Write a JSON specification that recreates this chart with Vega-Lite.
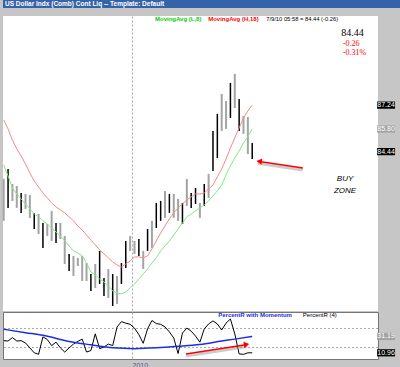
{
"$schema": "https://vega.github.io/schema/vega-lite/v6.json",
"background": "#c6c6c6",
"padding": 0,
"spacing": 7,
"config": {"view": {"stroke": null}, "font": "Liberation Sans", "axis": {"labelFont": "Liberation Sans"}},
"datasets": {
"bars": [
{"i":0,"hi":82.80,"lo":80.27,"c":"g","ma18":86.35,"ma8":83.64,"pr":43},
{"i":1,"hi":83.40,"lo":81.05,"c":"k","ma18":85.81,"ma8":82.98,"pr":42},
{"i":2,"hi":82.49,"lo":81.47,"c":"g","ma18":85.14,"ma8":82.25,"pr":51},
{"i":3,"hi":82.37,"lo":81.05,"c":"g","ma18":84.60,"ma8":81.89,"pr":42},
{"i":4,"hi":81.95,"lo":80.75,"c":"k","ma18":84.18,"ma8":81.59,"pr":43},
{"i":5,"hi":81.89,"lo":80.99,"c":"g","ma18":83.70,"ma8":81.29,"pr":37},
{"i":6,"hi":81.83,"lo":80.45,"c":"g","ma18":83.16,"ma8":80.99,"pr":24},
{"i":7,"hi":80.75,"lo":79.78,"c":"k","ma18":82.67,"ma8":80.69,"pr":11},
{"i":8,"hi":80.69,"lo":79.48,"c":"g","ma18":82.31,"ma8":80.51,"pr":7},
{"i":9,"hi":80.14,"lo":78.64,"c":"k","ma18":81.95,"ma8":80.27,"pr":53},
{"i":10,"hi":80.08,"lo":79.36,"c":"g","ma18":81.65,"ma8":80.08,"pr":46},
{"i":11,"hi":80.87,"lo":79.06,"c":"g","ma18":81.35,"ma8":79.84,"pr":30},
{"i":12,"hi":80.14,"lo":78.94,"c":"k","ma18":81.11,"ma8":79.60,"pr":39},
{"i":13,"hi":80.14,"lo":79.18,"c":"g","ma18":80.93,"ma8":79.36,"pr":24},
{"i":14,"hi":79.36,"lo":77.67,"c":"g","ma18":80.75,"ma8":79.06,"pr":13},
{"i":15,"hi":78.28,"lo":77.25,"c":"k","ma18":80.51,"ma8":78.76,"pr":24},
{"i":16,"hi":78.16,"lo":76.95,"c":"g","ma18":80.27,"ma8":78.46,"pr":34},
{"i":17,"hi":78.04,"lo":77.55,"c":"g","ma18":79.96,"ma8":78.34,"pr":41},
{"i":18,"hi":78.16,"lo":76.65,"c":"g","ma18":79.72,"ma8":78.16,"pr":47},
{"i":19,"hi":77.73,"lo":76.65,"c":"g","ma18":79.42,"ma8":77.73,"pr":13},
{"i":20,"hi":77.07,"lo":76.05,"c":"k","ma18":79.12,"ma8":77.19,"pr":17},
{"i":21,"hi":77.67,"lo":76.23,"c":"g","ma18":78.82,"ma8":77.01,"pr":61},
{"i":22,"hi":78.46,"lo":76.47,"c":"k","ma18":78.52,"ma8":76.77,"pr":22},
{"i":23,"hi":76.83,"lo":75.75,"c":"k","ma18":78.28,"ma8":76.59,"pr":26},
{"i":24,"hi":77.37,"lo":75.63,"c":"g","ma18":78.04,"ma8":76.35,"pr":34},
{"i":25,"hi":77.07,"lo":75.14,"c":"k","ma18":77.80,"ma8":76.05,"pr":30},
{"i":26,"hi":76.95,"lo":75.27,"c":"g","ma18":77.61,"ma8":75.93,"pr":79},
{"i":27,"hi":77.73,"lo":76.47,"c":"k","ma18":77.49,"ma8":75.87,"pr":93},
{"i":28,"hi":79.06,"lo":77.43,"c":"k","ma18":77.67,"ma8":75.99,"pr":89},
{"i":29,"hi":79.36,"lo":78.46,"c":"g","ma18":77.86,"ma8":76.23,"pr":86},
{"i":30,"hi":79.06,"lo":78.28,"c":"g","ma18":78.10,"ma8":76.47,"pr":76},
{"i":31,"hi":79.18,"lo":78.16,"c":"k","ma18":78.10,"ma8":76.77,"pr":59},
{"i":32,"hi":78.46,"lo":77.37,"c":"g","ma18":78.04,"ma8":77.07,"pr":36},
{"i":33,"hi":79.78,"lo":78.46,"c":"k","ma18":78.16,"ma8":77.37,"pr":74},
{"i":34,"hi":80.27,"lo":78.64,"c":"g","ma18":78.58,"ma8":77.73,"pr":96},
{"i":35,"hi":81.35,"lo":79.84,"c":"k","ma18":79.06,"ma8":78.04,"pr":88},
{"i":36,"hi":81.47,"lo":80.27,"c":"k","ma18":79.54,"ma8":78.46,"pr":86},
{"i":37,"hi":82.07,"lo":80.45,"c":"g","ma18":79.96,"ma8":78.76,"pr":79},
{"i":38,"hi":81.89,"lo":80.75,"c":"k","ma18":80.39,"ma8":79.06,"pr":66},
{"i":39,"hi":81.89,"lo":80.45,"c":"g","ma18":80.75,"ma8":79.42,"pr":50},
{"i":40,"hi":81.59,"lo":80.27,"c":"g","ma18":81.05,"ma8":79.78,"pr":9},
{"i":41,"hi":81.35,"lo":80.08,"c":"k","ma18":81.29,"ma8":80.14,"pr":63},
{"i":42,"hi":82.80,"lo":81.17,"c":"g","ma18":81.53,"ma8":80.51,"pr":76},
{"i":43,"hi":81.95,"lo":81.05,"c":"k","ma18":81.71,"ma8":80.69,"pr":68},
{"i":44,"hi":82.25,"lo":81.29,"c":"k","ma18":81.89,"ma8":80.87,"pr":55},
{"i":45,"hi":81.35,"lo":80.45,"c":"g","ma18":81.89,"ma8":81.05,"pr":39},
{"i":46,"hi":82.49,"lo":81.17,"c":"k","ma18":81.95,"ma8":81.23,"pr":74},
{"i":47,"hi":83.10,"lo":81.65,"c":"g","ma18":82.19,"ma8":81.47,"pr":87},
{"i":48,"hi":85.69,"lo":83.28,"c":"k","ma18":82.43,"ma8":81.77,"pr":95},
{"i":49,"hi":86.71,"lo":84.06,"c":"k","ma18":82.92,"ma8":82.07,"pr":87},
{"i":50,"hi":87.92,"lo":85.69,"c":"g","ma18":83.40,"ma8":82.43,"pr":71},
{"i":51,"hi":87.49,"lo":85.81,"c":"g","ma18":84.00,"ma8":83.04,"pr":89},
{"i":52,"hi":88.58,"lo":86.47,"c":"k","ma18":84.66,"ma8":83.58,"pr":100},
{"i":53,"hi":89.12,"lo":87.07,"c":"g","ma18":85.27,"ma8":84.06,"pr":61},
{"i":54,"hi":87.61,"lo":85.69,"c":"k","ma18":85.87,"ma8":84.48,"pr":8},
{"i":55,"hi":86.59,"lo":85.51,"c":"g","ma18":86.47,"ma8":84.96,"pr":7},
{"i":56,"hi":86.53,"lo":84.30,"c":"g","ma18":86.89,"ma8":85.33,"pr":11},
{"i":57,"hi":84.96,"lo":84.00,"c":"k","ma18":87.24,"ma8":85.80,"pr":10.96}
],
"momentum": [
{"i":0,"m":73},{"i":5,"m":64},{"i":9,"m":57},{"i":15,"m":41},{"i":20,"m":32},{"i":25,"m":24},{"i":30,"m":22},{"i":35,"m":24},{"i":40,"m":28},{"i":45,"m":33},{"i":50,"m":42},{"i":53,"m":47},{"i":57,"m":54}
],
"lastMain": [
{"s":"ma18","v":87.24,"t":"87.24"},
{"s":"ma8","v":85.80,"t":"85.80"},
{"s":"close","v":84.44,"t":"84.44"}
],
"lastLower": [
{"s":"mom","v":54,"t":"31.19"},
{"s":"pr","v":10.96,"t":"10.96"}
],
"levels": [{"v":25},{"v":75}],
"trendLower": [{"i":41.8,"v":8},{"i":55.9,"v":33}],
"arrowMain": [{"i":68.6,"p":83.46},{"i":58.3,"p":83.86}]
},
"vconcat": [
{
"width": 400, "height": 8,
"view": {"fill": "#3563a9", "stroke": null},
"data": {"values": [{"t": "US Dollar Indx (Comb) Cont Liq  --  Template: Default"}]},
"mark": {"type": "text", "align": "left", "baseline": "middle", "color": "white", "fontWeight": "bold", "fontSize": 6.5, "dx": 2},
"encoding": {
"x": {"datum": 0, "type": "quantitative", "scale": {"domain": [0, 1]}, "axis": null},
"y": {"datum": 0.5, "type": "quantitative", "scale": {"domain": [0, 1]}, "axis": null},
"text": {"field": "t"}
}
},
{
"spacing": 0,
"vconcat": [
{
"width": 375, "height": 295,
"view": {"fill": "white", "stroke": null},
"layer": [
{
"data": {"name": "bars"},
"mark": {"type": "rule"},
"encoding": {
"x": {"field": "i", "type": "quantitative", "scale": {"domain": [-0.16, 85.85], "nice": false, "zero": false},
 "axis": {"values": [29.43], "labels": false, "ticks": false, "domain": false, "grid": true, "gridDash": [2, 2], "gridColor": "#a8a8a8", "title": null}},
"y": {"field": "lo", "type": "quantitative", "scale": {"domain": [74.84, 92.61], "nice": false, "zero": false},
 "axis": {"orient": "right", "values": [75,76,77,78,79,80,81,82,83,84,85,86,87,88,89,90,91,92], "format": ".2f", "title": null, "labelFontSize": 7, "labelColor": "#5a5a86", "tickColor": "#808080", "tickSize": 4, "domain": false, "labelPadding": 1, "grid": false}},
"y2": {"field": "hi"},
"color": {"field": "c", "type": "nominal", "scale": {"domain": ["k", "g"], "range": ["#000000", "#a4a4a4"]}, "legend": null},
"strokeWidth": {"field": "c", "type": "ordinal", "scale": {"domain": ["k", "g"], "range": [1.5, 2]}, "legend": null}
}
},
{
"data": {"name": "bars"},
"mark": {"type": "line", "color": "#f48a8a", "strokeWidth": 1},
"encoding": {
"x": {"field": "i", "type": "quantitative"},
"y": {"field": "ma18", "type": "quantitative", "axis": null}
}
},
{
"data": {"name": "bars"},
"mark": {"type": "line", "color": "#86e686", "strokeWidth": 1},
"encoding": {
"x": {"field": "i", "type": "quantitative"},
"y": {"field": "ma8", "type": "quantitative", "axis": null}
}
},
{
"data": {"values": [{}]},
"mark": {"type": "text", "text": "MovingAvg (L,8)", "align": "left", "baseline": "middle", "color": "#00d000", "fontSize": 6, "fontWeight": "bold"},
"encoding": {"x": {"datum": 34.7}, "y": {"datum": 92.43, "axis": null}}
},
{
"data": {"values": [{}]},
"mark": {"type": "text", "text": "MovingAvg (H,18)", "align": "left", "baseline": "middle", "color": "#ff0000", "fontSize": 6, "fontWeight": "bold"},
"encoding": {"x": {"datum": 46.9}, "y": {"datum": 92.43, "axis": null}}
},
{
"data": {"values": [{}]},
"mark": {"type": "text", "text": "7/9/10 05:58 = 84.44 (-0.26)", "align": "left", "baseline": "middle", "color": "#000000", "fontSize": 5.8},
"encoding": {"x": {"datum": 60.2}, "y": {"datum": 92.43, "axis": null}}
},
{
"data": {"values": [{}]},
"mark": {"type": "text", "text": "84.44", "align": "left", "baseline": "middle", "color": "#000000", "fontSize": 10, "font": "Liberation Serif"},
"encoding": {"x": {"datum": 77.4}, "y": {"datum": 91.59, "axis": null}}
},
{
"data": {"values": [{}]},
"mark": {"type": "text", "text": "-0.26", "align": "left", "baseline": "middle", "color": "#ff0000", "fontSize": 8, "font": "Liberation Serif"},
"encoding": {"x": {"datum": 77.8}, "y": {"datum": 90.93, "axis": null}}
},
{
"data": {"values": [{}]},
"mark": {"type": "text", "text": "-0.31%", "align": "left", "baseline": "middle", "color": "#ff0000", "fontSize": 8, "font": "Liberation Serif"},
"encoding": {"x": {"datum": 77.8}, "y": {"datum": 90.39, "axis": null}}
},
{
"data": {"values": [{}]},
"mark": {"type": "text", "text": ["BUY", "ZONE"], "align": "center", "baseline": "middle", "lineHeight": 12, "color": "#000000", "fontSize": 8, "fontStyle": "italic"},
"encoding": {"x": {"datum": 78.3}, "y": {"datum": 82.80, "axis": null}}
},
{
"data": {"name": "arrowMain"},
"mark": {"type": "line", "color": "#9a9a9a", "strokeWidth": 3, "opacity": 0.5, "yOffset": 2},
"encoding": {"x": {"field": "i", "type": "quantitative"}, "y": {"field": "p", "type": "quantitative", "axis": null}}
},
{
"data": {"name": "arrowMain"},
"mark": {"type": "line", "color": "#ff0000", "strokeWidth": 1.5},
"encoding": {"x": {"field": "i", "type": "quantitative"}, "y": {"field": "p", "type": "quantitative", "axis": null}}
},
{
"data": {"values": [{}]},
"mark": {"type": "point", "shape": "triangle-left", "filled": true, "color": "#ff0000", "size": 40, "angle": 8, "opacity": 1},
"encoding": {"x": {"datum": 58.6}, "y": {"datum": 83.86, "axis": null}}
},
{
"data": {"name": "lastMain"},
"mark": {"type": "point", "shape": "M-1,-0.4L1,-0.4L1,0.4L-1,0.4Z", "filled": true, "size": 324, "opacity": 1},
"encoding": {
"x": {"datum": 87.7},
"y": {"field": "v", "type": "quantitative", "axis": null},
"color": {"field": "s", "type": "nominal", "scale": {"domain": ["ma18", "ma8", "close"], "range": ["#ff0000", "#22e022", "#000000"]}, "legend": null}
}
},
{
"data": {"name": "lastMain"},
"mark": {"type": "text", "align": "center", "baseline": "middle", "color": "white", "fontSize": 7},
"encoding": {
"x": {"datum": 87.7},
"y": {"field": "v", "type": "quantitative", "axis": null},
"text": {"field": "t"}
}
}
]
},
{
"width": 375, "height": 47,
"view": {"fill": "white", "stroke": "#767676"},
"layer": [
{
"data": {"name": "levels"},
"mark": {"type": "rule", "color": "#a8a8a8", "strokeDash": [2, 2], "strokeWidth": 1},
"encoding": {
"y": {"field": "v", "type": "quantitative", "scale": {"domain": [-5.3, 118.4], "nice": false, "zero": false},
 "axis": {"orient": "right", "values": [0, 100], "format": "d", "title": null, "labelFontSize": 7, "labelColor": "#5a5a86", "tickColor": "#808080", "tickSize": 4, "domain": false, "labelPadding": 1, "grid": false}}
}
},
{
"data": {"name": "bars"},
"mark": {"type": "line", "color": "#000000", "strokeWidth": 1},
"encoding": {
"x": {"field": "i", "type": "quantitative", "scale": {"domain": [-0.16, 85.85], "nice": false, "zero": false},
 "axis": {"values": [29.43], "labelExpr": "'2010'", "labelAlign": "left", "labelPadding": 2, "labelFontSize": 7, "labelColor": "#5a5a86", "ticks": false, "domain": false, "grid": true, "gridDash": [2, 2], "gridColor": "#a8a8a8", "title": null}},
"y": {"field": "pr", "type": "quantitative", "axis": null}
}
},
{
"data": {"name": "momentum"},
"mark": {"type": "line", "color": "#1a2ee6", "strokeWidth": 1.5, "interpolate": "monotone"},
"encoding": {
"x": {"field": "i", "type": "quantitative"},
"y": {"field": "m", "type": "quantitative", "axis": null}
}
},
{
"data": {"name": "trendLower"},
"mark": {"type": "line", "color": "#9a9a9a", "strokeWidth": 3, "opacity": 0.5, "yOffset": 2},
"encoding": {"x": {"field": "i", "type": "quantitative"}, "y": {"field": "v", "type": "quantitative", "axis": null}}
},
{
"data": {"name": "trendLower"},
"mark": {"type": "line", "color": "#ff0000", "strokeWidth": 1.5},
"encoding": {"x": {"field": "i", "type": "quantitative"}, "y": {"field": "v", "type": "quantitative", "axis": null}}
},
{
"data": {"values": [{}]},
"mark": {"type": "point", "shape": "triangle-right", "filled": true, "color": "#ff0000", "size": 40, "angle": -9, "opacity": 1},
"encoding": {"x": {"datum": 55.7}, "y": {"datum": 33, "axis": null}}
},
{
"data": {"values": [{}]},
"mark": {"type": "text", "text": "PercentR with Momentum", "align": "left", "baseline": "middle", "color": "#1a2ee6", "fontSize": 6, "fontWeight": "bold"},
"encoding": {"x": {"datum": 49.2}, "y": {"datum": 110.5, "axis": null}}
},
{
"data": {"values": [{}]},
"mark": {"type": "text", "text": "PercentR (4)", "align": "left", "baseline": "middle", "color": "#000000", "fontSize": 6},
"encoding": {"x": {"datum": 68.6}, "y": {"datum": 110.5, "axis": null}}
},
{
"data": {"name": "lastLower"},
"mark": {"type": "point", "shape": "M-1,-0.4L1,-0.4L1,0.4L-1,0.4Z", "filled": true, "size": 324, "opacity": 1},
"encoding": {
"x": {"datum": 87.7},
"y": {"field": "v", "type": "quantitative", "axis": null},
"color": {"field": "s", "type": "nominal", "scale": {"domain": ["mom", "pr"], "range": ["#1a2ee6", "#000000"]}, "legend": null}
}
},
{
"data": {"name": "lastLower"},
"mark": {"type": "text", "align": "center", "baseline": "middle", "color": "white", "fontSize": 7},
"encoding": {
"x": {"datum": 87.7},
"y": {"field": "v", "type": "quantitative", "axis": null},
"text": {"field": "t"}
}
}
]
}
]
}
]
}
